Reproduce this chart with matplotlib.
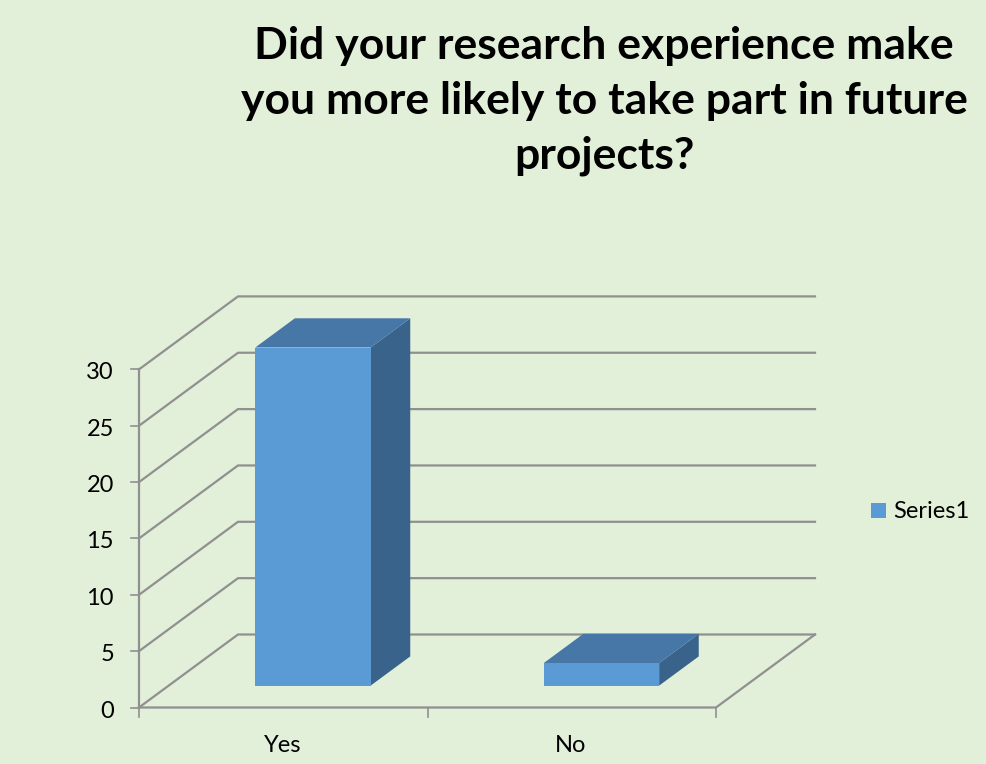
import matplotlib.pyplot as plt

categories = ["Yes", "No"]
values = [30, 2]
yticks = [0, 5, 10, 15, 20, 25, 30]
series_name = "Series1"
title = "Did your research experience make\nyou more likely to take part in future\nprojects?"

plt.rcParams['font.family'] = ['Lato', 'DejaVu Sans']

BG = '#E2EFD9'
FRONT = '#5B9BD5'
TOP = '#4677A6'
SIDE = '#39638A'
GRID = '#909090'

# pixel geometry of the fake 3d box
X0, Y0 = 139.0, 707.5
CAT_W = 288.5
UNIT = 11.27
DX, DY = 99.0, -73.0


def proj(c, v, d):
    # c in category units, v in data units, d depth 0..1
    return X0 + c * CAT_W + d * DX, Y0 - v * UNIT + d * DY


fig = plt.figure(figsize=(9.87, 7.64), dpi=100, facecolor=BG)
ax = fig.add_axes([0, 0, 1, 1])
ax.set_xlim(0, 987)
ax.set_ylim(764, 0)
ax.axis('off')

n = len(categories)
for t in yticks:
    a = proj(0, t, 0)
    b = proj(0, t, 1)
    c = proj(n, t, 1)
    ax.plot([a[0], b[0], c[0]], [a[1], b[1], c[1]], color=GRID, lw=1.6, zorder=1)
    ax.text(a[0] - 25, a[1] + 3.5, str(t), ha='right', va='center', fontsize=17, color='black')
    ax.plot([a[0] - 8, a[0]], [a[1], a[1]], color=GRID, lw=1.2, zorder=1)

# walls and floor edges
p = [proj(0, 0, 0), proj(0, yticks[-1], 0)]
ax.plot(*zip(*p), color=GRID, lw=1.6, zorder=1)
p = [proj(0, 0, 0), proj(n, 0, 0), proj(n, 0, 1)]
ax.plot(*zip(*p), color=GRID, lw=1.6, zorder=1)

for i in range(n + 1):
    a = proj(i, 0, 0)
    ax.plot([a[0], a[0]], [a[1], a[1] + 9], color=GRID, lw=1.2, zorder=1)

for i, (cat, v) in enumerate(zip(categories, values)):
    l, r = i + 0.3, i + 0.7
    d0, d1 = 0.3, 0.7
    front = [proj(l, 0, d0), proj(r, 0, d0), proj(r, v, d0), proj(l, v, d0)]
    top = [proj(l, v, d0), proj(r, v, d0), proj(r, v, d1), proj(l, v, d1)]
    side = [proj(r, 0, d0), proj(r, 0, d1), proj(r, v, d1), proj(r, v, d0)]
    ax.fill(*zip(*side), color=SIDE, lw=0, zorder=3)
    ax.fill(*zip(*top), color=TOP, lw=0, zorder=3)
    ax.fill(*zip(*front), color=FRONT, lw=0, zorder=3)
    lab = proj(i + 0.5, 0, 0)
    ax.text(lab[0] - 1, 746, cat, ha='center', va='center', fontsize=17, color='black')

ax.text(604, 101, title, ha='center', va='center', fontsize=32, fontweight='bold',
        color='black', linespacing=1.45)

# legend
ax.fill([871, 886, 886, 871], [503, 503, 518, 518], color=FRONT, lw=0)
ax.text(893, 511.5, series_name, ha='left', va='center', fontsize=17, color='black')

fig.savefig('out.png', dpi=100, facecolor=BG)
